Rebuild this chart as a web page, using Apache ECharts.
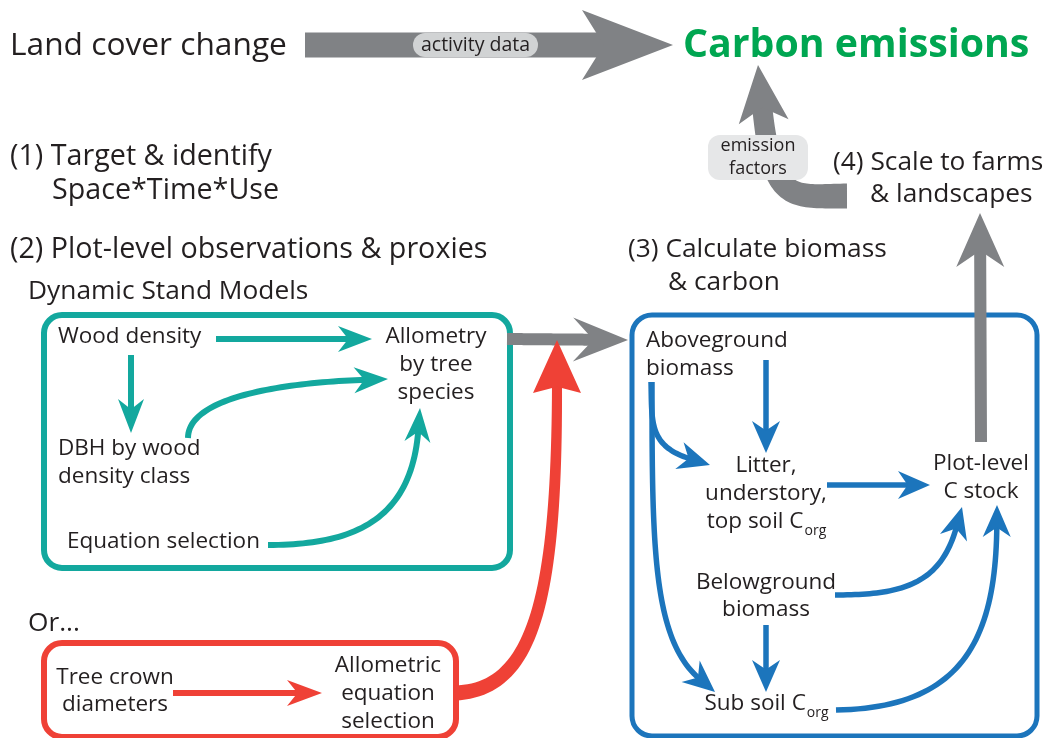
<!DOCTYPE html>
<html>
<head>
<meta charset="utf-8">
<script src="https://cdn.jsdelivr.net/npm/echarts@6/dist/echarts.min.js"></script>
<style>
  html, body { margin: 0; padding: 0; background: #fff; }
  #chart { width: 1044px; height: 738px; }
</style>
</head>
<body>
<div id="chart"></div>
<script>
// canvas extent used as a hidden data space
const W = 1044, H = 738;
const FONT = '"Open Sans", "Noto Sans", sans-serif';
const INK = '#231f20';
const TEAL = '#13a89e', BLUE = '#1c75bc', RED = '#ef4136', GRAY = '#808285', GREEN = '#00a651';

// step headings: [text, x, y]
const landLabel = [['Land cover change', 10, 46]];
const stepLabels = [
    ['(1) Target & identify', 10, 157],
    ['Space*Time*Use', 52, 191],
    ['(2) Plot-level observations & proxies', 10, 250]
];
const stepLabelsSmall = [
    ['(3) Calculate biomass', 628, 250],
    ['& carbon', 668, 283],
    ['(4) Scale to farms', 833, 163],
    ['& landscapes', 870, 195],
    ['Dynamic Stand Models', 28, 292],
    ['Or...', 28, 624]
];
// node texts, left aligned
const leftNodes = [
    ['Wood density', 58, 337],
    ['DBH by wood', 58, 449],
    ['density class', 58, 477],
    ['Equation selection', 67, 542],
    ['Aboveground', 646, 341],
    ['biomass', 646, 369]
];
// node texts, centred ("_" starts a subscript)
const centerNodes = [
    ['Allometry', 436, 337], ['by tree', 436, 365], ['species', 436, 393],
    ['Tree crown', 115, 678], ['diameters', 115, 705],
    ['Allometric', 388, 666], ['equation', 388, 694], ['selection', 388, 722],
    ['Litter,', 766, 466], ['understory,', 766, 494], ['top soil C_org', 766, 522],
    ['Plot-level', 981, 464], ['C stock', 981, 492],
    ['Belowground', 766, 583], ['biomass', 766, 610],
    ['Sub soil C_org', 766, 704]
];
const titleText = [['Carbon emissions', 683, 46]];

// boxes: [x0, y0, x1, y1]
const tealBox = [[44, 315, 510, 568]];
const redBox = [[44, 643, 456, 737]];
const blueBox = [[632, 315, 1037, 736]];

// arrows: 2 points = straight, 4 points = cubic curve, last point is the tip
const tealArrows = [
    [[216, 339], [372, 339]],
    [[131, 355], [131, 433]],
    [[188, 438], [188, 398], [300, 382], [388, 379]],
    [[268, 545], [352, 545], [413, 500], [420, 408]]
];
const blueArrows = [
    [[766, 360], [766, 453]],
    [[827, 485], [930, 485]],
    [[766, 625], [766, 692]],
    [[651, 382], [652, 422], [668, 452], [710, 465]],
    [[652, 382], [652, 545], [668, 652], [715, 692]],
    [[835, 595], [902, 595], [946, 565], [962, 507]],
    [[836, 710], [960, 708], [996, 622], [997, 505]]
];
const redArrows = [
    [[173, 693], [322, 693]]
];
const redFeed = [
    [[455, 693], [532, 690], [557, 560], [557, 340]]
];
const grayActivity = [[[305, 45], [673, 45]]];
const grayToBlue = [[[507, 339], [628, 340]]];
const grayUp = [[[981, 442], [980, 213]]];
const grayEmission = [[[847, 196], [792, 196], [768, 165], [758, 65]]];

// pills: [text lines, x0, y0, x1, y1]
const pills = [
    [['activity data'], 413, 33, 538, 57],
    [['emission', 'factors'], 708, 135, 808, 180]
];

const measureCtx = document.createElement('canvas').getContext('2d');
function textWidth(s, font) {
    measureCtx.font = font;
    return measureCtx.measureText(s).width;
}

function bez(P, t) {
    const m = 1 - t;
    const a = m * m * m, b = 3 * m * m * t, c = 3 * m * t * t, d = t * t * t;
    return [a * P[0][0] + b * P[1][0] + c * P[2][0] + d * P[3][0],
            a * P[0][1] + b * P[1][1] + c * P[2][1] + d * P[3][1]];
}

function arrowGroup(api, pts, st) {
    const P = pts.map(p => api.coord(p));
    const tip = P[P.length - 1];
    const prev = P.length === 2 ? P[0] : P[2];
    let dx = tip[0] - prev[0], dy = tip[1] - prev[1];
    const n = Math.hypot(dx, dy); dx /= n; dy /= n;
    const cut = st.len * (1 - st.notch) - 2;
    const end = [tip[0] - dx * cut, tip[1] - dy * cut];
    let Q;
    if (P.length === 2) {
        Q = [P[0], [P[0][0] + (end[0] - P[0][0]) / 3, P[0][1] + (end[1] - P[0][1]) / 3],
             [P[0][0] + (end[0] - P[0][0]) * 2 / 3, P[0][1] + (end[1] - P[0][1]) * 2 / 3], end];
    } else {
        Q = [P[0], P[1], [P[2][0] - dx * cut, P[2][1] - dy * cut], end];
    }
    const N = 48, samples = [];
    for (let i = 0; i <= N; i++) samples.push(bez(Q, i / N));
    const left = [], right = [];
    for (let i = 0; i <= N; i++) {
        const a = samples[Math.max(0, i - 1)], b = samples[Math.min(N, i + 1)];
        let tx = b[0] - a[0], ty = b[1] - a[1];
        const tl = Math.hypot(tx, ty) || 1; tx /= tl; ty /= tl;
        const w = (st.w0 + (st.w1 - st.w0) * i / N) / 2;
        left.push([samples[i][0] - ty * w, samples[i][1] + tx * w]);
        right.push([samples[i][0] + ty * w, samples[i][1] - tx * w]);
    }
    const shaft = left.concat(right.reverse());
    const bx = tip[0] - dx * st.len, by = tip[1] - dy * st.len;
    const nx = -dy, ny = dx;
    const head = [tip, [bx + nx * st.half, by + ny * st.half],
        [tip[0] - dx * st.len * (1 - st.notch), tip[1] - dy * st.len * (1 - st.notch)],
        [bx - nx * st.half, by - ny * st.half]];
    return {
        type: 'group',
        children: [
            { type: 'polygon', shape: { points: shaft }, style: { fill: st.color } },
            { type: 'polygon', shape: { points: head }, style: { fill: st.color } }
        ]
    };
}

function arrowSeries(list, st, z) {
    return {
        type: 'custom', coordinateSystem: 'cartesian2d', clip: false, silent: true, z: z,
        data: list.map(a => a[a.length - 1]),
        renderItem: (params, api) => arrowGroup(api, list[params.dataIndex], st)
    };
}

function boxSeries(list, color, lw, r) {
    return {
        type: 'custom', coordinateSystem: 'cartesian2d', clip: false, silent: true, z: 1,
        data: list.map(b => [b[0], b[1]]),
        renderItem: (params, api) => {
            const b = list[params.dataIndex];
            const p0 = api.coord([b[0], b[1]]), p1 = api.coord([b[2], b[3]]);
            return {
                type: 'rect',
                shape: { x: p0[0], y: p0[1], width: p1[0] - p0[0], height: p1[1] - p0[1], r: r },
                style: { fill: 'none', stroke: color, lineWidth: lw }
            };
        }
    };
}

function textSeries(list, size, weight, color, align) {
    const font = weight + ' ' + size + 'px ' + FONT;
    const subFont = 'normal ' + Math.round(size * 0.62) + 'px ' + FONT;
    return {
        type: 'custom', coordinateSystem: 'cartesian2d', clip: false, silent: true, z: 5,
        data: list.map(d => [d[1], d[2]]),
        renderItem: (params, api) => {
            const d = list[params.dataIndex];
            const p = api.coord([d[1], d[2]]);
            const parts = d[0].split('_');
            if (parts.length === 1) {
                return { type: 'text', style: { text: d[0], x: p[0], y: p[1], font: font, fill: color, align: align, verticalAlign: 'middle' } };
            }
            const w0 = textWidth(parts[0], font), w1 = textWidth(parts[1], subFont);
            const x0 = align === 'center' ? p[0] - (w0 + w1) / 2 : p[0];
            return {
                type: 'group',
                children: [
                    { type: 'text', style: { text: parts[0], x: x0, y: p[1], font: font, fill: color, align: 'left', verticalAlign: 'middle' } },
                    { type: 'text', style: { text: parts[1], x: x0 + w0 + 1, y: p[1] + size * 0.42, font: subFont, fill: color, align: 'left', verticalAlign: 'middle' } }
                ]
            };
        }
    };
}

function pillSeries(list) {
    return {
        type: 'custom', coordinateSystem: 'cartesian2d', clip: false, silent: true, z: 4,
        data: list.map(d => [d[1], d[2]]),
        renderItem: (params, api) => {
            const d = list[params.dataIndex];
            const p0 = api.coord([d[1], d[2]]), p1 = api.coord([d[3], d[4]]);
            const h = p1[1] - p0[1];
            const single = d[0].length === 1;
            const children = [{
                type: 'rect',
                shape: { x: p0[0], y: p0[1], width: p1[0] - p0[0], height: h, r: single ? h / 2 : 12 },
                style: { fill: single ? '#d1d3d4' : '#e6e7e8' }
            }];
            d[0].forEach((line, i) => {
                children.push({
                    type: 'text',
                    style: {
                        text: line, x: (p0[0] + p1[0]) / 2, y: p0[1] + h * (i + 0.5) / d[0].length,
                        font: 'normal ' + (single ? 19.5 : 18) + 'px ' + FONT,
                        fill: INK, align: 'center', verticalAlign: 'middle'
                    }
                });
            });
            return { type: 'group', children: children };
        }
    };
}

const chart = echarts.init(document.getElementById('chart'));
chart.setOption({
    animation: false,
    backgroundColor: '#fff',
    grid: { left: 0, right: 0, top: 0, bottom: 0 },
    xAxis: { type: 'value', min: 0, max: W, show: false },
    yAxis: { type: 'value', min: 0, max: H, inverse: true, show: false },
    series: [
        boxSeries(tealBox, TEAL, 6, 18),
        boxSeries(redBox, RED, 6, 18),
        boxSeries(blueBox, BLUE, 5, 20),
        arrowSeries(grayActivity, { color: GRAY, w0: 25, w1: 25, len: 91, half: 35, notch: 0.24 }, 2),
        arrowSeries(grayToBlue, { color: GRAY, w0: 12, w1: 12, len: 55, half: 22, notch: 0.37 }, 2),
        arrowSeries(grayUp, { color: GRAY, w0: 12, w1: 12, len: 54, half: 24, notch: 0.3 }, 2),
        arrowSeries(grayEmission, { color: GRAY, w0: 25, w1: 20, len: 57, half: 25, notch: 0.25 }, 2),
        arrowSeries(redFeed, { color: RED, w0: 15, w1: 10, len: 53, half: 24, notch: 0.12 }, 3),
        arrowSeries(tealArrows, { color: TEAL, w0: 6, w1: 6, len: 34, half: 13, notch: 0.3 }, 3),
        arrowSeries(blueArrows, { color: BLUE, w0: 5.5, w1: 5.5, len: 32, half: 14, notch: 0.3 }, 3),
        arrowSeries(redArrows, { color: RED, w0: 6, w1: 6, len: 35, half: 13, notch: 0.3 }, 3),
        pillSeries(pills),
        textSeries(landLabel, 31.7, 'normal', INK, 'left'),
        textSeries(stepLabels, 28.7, 'normal', INK, 'left'),
        textSeries(stepLabelsSmall, 26.3, 'normal', INK, 'left'),
        textSeries(leftNodes, 22.5, 'normal', INK, 'left'),
        textSeries(centerNodes, 22.5, 'normal', INK, 'center'),
        textSeries(titleText, 39.3, 'bold', GREEN, 'left')
    ]
});

window.addEventListener('resize', () => chart.resize());
</script>
</body>
</html>
